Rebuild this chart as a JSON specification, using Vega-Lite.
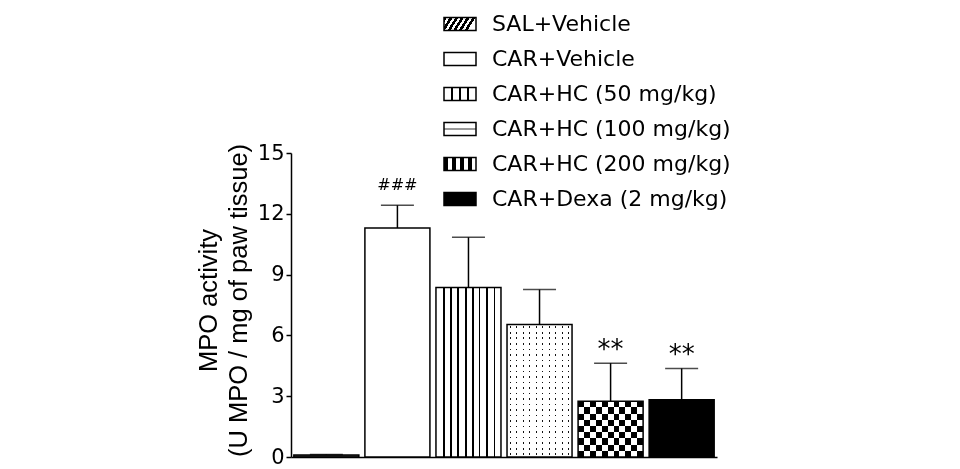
{
  "$schema": "https://vega.github.io/schema/vega-lite/v6.json",
  "width": 426,
  "height": 304,
  "autosize": "none",
  "padding": {"left": 291, "top": 153, "right": 243, "bottom": 12},
  "background": "white",
  "config": {"view": {"stroke": null}},
  "data": {
    "values": [
      {"group": "SAL+Vehicle", "mean": 0.1, "upper": 0.12, "sig": ""},
      {"group": "CAR+Vehicle", "mean": 11.3, "upper": 12.42, "sig": "###"},
      {"group": "CAR+HC (50 mg/kg)", "mean": 8.36, "upper": 10.84, "sig": ""},
      {"group": "CAR+HC (100 mg/kg)", "mean": 6.54, "upper": 8.26, "sig": ""},
      {"group": "CAR+HC (200 mg/kg)", "mean": 2.75, "upper": 4.63, "sig": "**"},
      {"group": "CAR+Dexa (2 mg/kg)", "mean": 2.82, "upper": 4.37, "sig": "**"}
    ]
  },
  "encoding": {
    "x": {
      "field": "group", "type": "nominal", "sort": null,
      "scale": {"paddingInner": 0.085, "paddingOuter": 0.04},
      "axis": {"labels": false, "ticks": false, "title": null, "domainColor": "black", "domainWidth": 1.5}
    },
    "y": {
      "field": "mean", "type": "quantitative",
      "scale": {"domain": [0, 15], "nice": false},
      "axis": {
        "values": [0, 3, 6, 9, 12, 15], "tickSize": 5, "tickWidth": 1.5, "tickColor": "black",
        "domainColor": "black", "domainWidth": 1.5,
        "labelFont": "DejaVu Sans", "labelFontSize": 21, "labelColor": "black", "labelPadding": 2,
        "grid": false,
        "title": ["MPO activity", "(U MPO / mg of paw tissue)"],
        "titleFont": "Liberation Sans", "titleFontSize": 25.5, "titleFontWeight": "normal",
        "titleColor": "black", "titleLineHeight": 30, "titlePadding": 6, "titleY": 147
      }
    }
  },
  "layer": [
    {
      "mark": {"type": "bar", "stroke": "black", "strokeWidth": 1.5},
      "encoding": {
        "y": {"datum": 0, "type": "quantitative"},
        "y2": {"datum": 0},
        "fill": {
          "field": "group", "type": "nominal",
          "scale": {
            "domain": ["SAL+Vehicle", "CAR+Vehicle", "CAR+HC (50 mg/kg)", "CAR+HC (100 mg/kg)", "CAR+HC (200 mg/kg)", "CAR+Dexa (2 mg/kg)"],
            "range": [
              {"expr": "{gradient:'linear',x1:0,y1:0,x2:1,y2:0.25,stops:[{offset:0,color:'black'},{offset:0.09,color:'black'},{offset:0.09,color:'white'},{offset:0.167,color:'white'},{offset:0.167,color:'black'},{offset:0.257,color:'black'},{offset:0.257,color:'white'},{offset:0.333,color:'white'},{offset:0.333,color:'black'},{offset:0.423,color:'black'},{offset:0.423,color:'white'},{offset:0.5,color:'white'},{offset:0.5,color:'black'},{offset:0.59,color:'black'},{offset:0.59,color:'white'},{offset:0.667,color:'white'},{offset:0.667,color:'black'},{offset:0.757,color:'black'},{offset:0.757,color:'white'},{offset:0.833,color:'white'},{offset:0.833,color:'black'},{offset:0.923,color:'black'},{offset:0.923,color:'white'},{offset:1,color:'white'}]}"},
              "white",
              {"expr": "{gradient:'linear',x1:0,y1:0,x2:1,y2:0,stops:[{offset:0,color:'white'},{offset:0.225,color:'white'},{offset:0.225,color:'black'},{offset:0.275,color:'black'},{offset:0.275,color:'white'},{offset:0.475,color:'white'},{offset:0.475,color:'black'},{offset:0.525,color:'black'},{offset:0.525,color:'white'},{offset:0.725,color:'white'},{offset:0.725,color:'black'},{offset:0.775,color:'black'},{offset:0.775,color:'white'},{offset:1,color:'white'}]}"},
              {"expr": "{gradient:'linear',x1:0,y1:0,x2:0,y2:1,stops:[{offset:0,color:'white'},{offset:0.42,color:'white'},{offset:0.42,color:'#999'},{offset:0.58,color:'#999'},{offset:0.58,color:'white'},{offset:1,color:'white'}]}"},
              {"expr": "{gradient:'linear',x1:0,y1:0,x2:1,y2:0,stops:[{offset:0,color:'black'},{offset:0.125,color:'black'},{offset:0.125,color:'white'},{offset:0.25,color:'white'},{offset:0.25,color:'black'},{offset:0.375,color:'black'},{offset:0.375,color:'white'},{offset:0.5,color:'white'},{offset:0.5,color:'black'},{offset:0.625,color:'black'},{offset:0.625,color:'white'},{offset:0.75,color:'white'},{offset:0.75,color:'black'},{offset:0.875,color:'black'},{offset:0.875,color:'white'},{offset:1,color:'white'}]}"},
              "black"
            ]
          },
          "legend": {
            "orient": "none", "legendX": 152, "legendY": -146, "title": null,
            "symbolType": "M-1,-0.4V0.4H1V-0.4Z", "symbolSize": 1024,
            "symbolStrokeColor": "black", "symbolStrokeWidth": 1.5,
            "labelFont": "DejaVu Sans", "labelFontSize": 22, "labelColor": "black",
            "labelOffset": 15, "rowPadding": 7, "labelLimit": 0, "padding": 0
          }
        }
      }
    },
    {
      "mark": {"type": "bar", "strokeWidth": 0},
      "encoding": {
        "fill": {
          "field": "group", "type": "nominal", "legend": null,
          "scale": {
            "domain": ["SAL+Vehicle", "CAR+Vehicle", "CAR+HC (50 mg/kg)", "CAR+HC (100 mg/kg)", "CAR+HC (200 mg/kg)", "CAR+Dexa (2 mg/kg)"],
            "range": [
              "#444",
              "white",
              "white",
              {"expr": "{gradient:'linear',x1:0,y1:0,x2:1,y2:0,stops:[{offset:0,color:'white'},{offset:0.04,color:'white'},{offset:0.04,color:'#111'},{offset:0.06,color:'#111'},{offset:0.06,color:'white'},{offset:0.14,color:'white'},{offset:0.14,color:'#111'},{offset:0.16,color:'#111'},{offset:0.16,color:'white'},{offset:0.24,color:'white'},{offset:0.24,color:'#111'},{offset:0.26,color:'#111'},{offset:0.26,color:'white'},{offset:0.34,color:'white'},{offset:0.34,color:'#111'},{offset:0.36,color:'#111'},{offset:0.36,color:'white'},{offset:0.44,color:'white'},{offset:0.44,color:'#111'},{offset:0.46,color:'#111'},{offset:0.46,color:'white'},{offset:0.54,color:'white'},{offset:0.54,color:'#111'},{offset:0.56,color:'#111'},{offset:0.56,color:'white'},{offset:0.64,color:'white'},{offset:0.64,color:'#111'},{offset:0.66,color:'#111'},{offset:0.66,color:'white'},{offset:0.74,color:'white'},{offset:0.74,color:'#111'},{offset:0.76,color:'#111'},{offset:0.76,color:'white'},{offset:0.84,color:'white'},{offset:0.84,color:'#111'},{offset:0.86,color:'#111'},{offset:0.86,color:'white'},{offset:0.94,color:'white'},{offset:0.94,color:'#111'},{offset:0.96,color:'#111'},{offset:0.96,color:'white'},{offset:1,color:'white'}]}"},
              {"expr": "{gradient:'linear',x1:0,y1:0,x2:1,y2:0,stops:[{offset:0,color:'black'},{offset:0.0909,color:'black'},{offset:0.0909,color:'white'},{offset:0.1818,color:'white'},{offset:0.1818,color:'black'},{offset:0.2727,color:'black'},{offset:0.2727,color:'white'},{offset:0.3636,color:'white'},{offset:0.3636,color:'black'},{offset:0.4545,color:'black'},{offset:0.4545,color:'white'},{offset:0.5455,color:'white'},{offset:0.5455,color:'black'},{offset:0.6364,color:'black'},{offset:0.6364,color:'white'},{offset:0.7273,color:'white'},{offset:0.7273,color:'black'},{offset:0.8182,color:'black'},{offset:0.8182,color:'white'},{offset:0.9091,color:'white'},{offset:0.9091,color:'black'},{offset:1,color:'black'}]}"},
              "black"
            ]
          }
        }
      }
    },
    {
      "transform": [{"filter": "datum.group === 'CAR+HC (50 mg/kg)'"}],
      "mark": {
        "type": "bar", "strokeWidth": 0,
        "fill": {"gradient": "linear", "x1": 0, "y1": 0, "x2": 1, "y2": 0, "stops": [
          {"offset": 0, "color": "white"},
          {"offset": 0.1083, "color": "white"}, {"offset": 0.1083, "color": "black"}, {"offset": 0.1314, "color": "black"}, {"offset": 0.1314, "color": "white"},
          {"offset": 0.2159, "color": "white"}, {"offset": 0.2159, "color": "black"}, {"offset": 0.239, "color": "black"}, {"offset": 0.239, "color": "white"},
          {"offset": 0.3236, "color": "white"}, {"offset": 0.3236, "color": "black"}, {"offset": 0.3467, "color": "black"}, {"offset": 0.3467, "color": "white"},
          {"offset": 0.4466, "color": "white"}, {"offset": 0.4466, "color": "black"}, {"offset": 0.4697, "color": "black"}, {"offset": 0.4697, "color": "white"},
          {"offset": 0.5543, "color": "white"}, {"offset": 0.5543, "color": "black"}, {"offset": 0.5774, "color": "black"}, {"offset": 0.5774, "color": "white"},
          {"offset": 0.6619, "color": "white"}, {"offset": 0.6619, "color": "black"}, {"offset": 0.685, "color": "black"}, {"offset": 0.685, "color": "white"},
          {"offset": 0.7696, "color": "white"}, {"offset": 0.7696, "color": "black"}, {"offset": 0.7927, "color": "black"}, {"offset": 0.7927, "color": "white"},
          {"offset": 0.8926, "color": "white"}, {"offset": 0.8926, "color": "black"}, {"offset": 0.9157, "color": "black"}, {"offset": 0.9157, "color": "white"},
          {"offset": 1, "color": "white"}
        ]}
      }
    },
    {
      "transform": [{"filter": "datum.group === 'CAR+HC (100 mg/kg)'"}],
      "mark": {
        "type": "bar", "strokeWidth": 0,
        "fill": {"gradient": "linear", "x1": 0, "y1": 0, "x2": 0, "y2": 1, "stops": [
          {"offset": 0, "color": "white"},
          {"offset": 0.0148, "color": "white"}, {"offset": 0.0148, "color": "rgba(255,255,255,0)"}, {"offset": 0.0268, "color": "rgba(255,255,255,0)"}, {"offset": 0.0268, "color": "white"},
          {"offset": 0.0565, "color": "white"}, {"offset": 0.0565, "color": "rgba(255,255,255,0)"}, {"offset": 0.0685, "color": "rgba(255,255,255,0)"}, {"offset": 0.0685, "color": "white"},
          {"offset": 0.0982, "color": "white"}, {"offset": 0.0982, "color": "rgba(255,255,255,0)"}, {"offset": 0.1102, "color": "rgba(255,255,255,0)"}, {"offset": 0.1102, "color": "white"},
          {"offset": 0.1398, "color": "white"}, {"offset": 0.1398, "color": "rgba(255,255,255,0)"}, {"offset": 0.1518, "color": "rgba(255,255,255,0)"}, {"offset": 0.1518, "color": "white"},
          {"offset": 0.1815, "color": "white"}, {"offset": 0.1815, "color": "rgba(255,255,255,0)"}, {"offset": 0.1935, "color": "rgba(255,255,255,0)"}, {"offset": 0.1935, "color": "white"},
          {"offset": 0.2232, "color": "white"}, {"offset": 0.2232, "color": "rgba(255,255,255,0)"}, {"offset": 0.2352, "color": "rgba(255,255,255,0)"}, {"offset": 0.2352, "color": "white"},
          {"offset": 0.2648, "color": "white"}, {"offset": 0.2648, "color": "rgba(255,255,255,0)"}, {"offset": 0.2768, "color": "rgba(255,255,255,0)"}, {"offset": 0.2768, "color": "white"},
          {"offset": 0.3065, "color": "white"}, {"offset": 0.3065, "color": "rgba(255,255,255,0)"}, {"offset": 0.3185, "color": "rgba(255,255,255,0)"}, {"offset": 0.3185, "color": "white"},
          {"offset": 0.3482, "color": "white"}, {"offset": 0.3482, "color": "rgba(255,255,255,0)"}, {"offset": 0.3602, "color": "rgba(255,255,255,0)"}, {"offset": 0.3602, "color": "white"},
          {"offset": 0.3898, "color": "white"}, {"offset": 0.3898, "color": "rgba(255,255,255,0)"}, {"offset": 0.4018, "color": "rgba(255,255,255,0)"}, {"offset": 0.4018, "color": "white"},
          {"offset": 0.4315, "color": "white"}, {"offset": 0.4315, "color": "rgba(255,255,255,0)"}, {"offset": 0.4435, "color": "rgba(255,255,255,0)"}, {"offset": 0.4435, "color": "white"},
          {"offset": 0.4732, "color": "white"}, {"offset": 0.4732, "color": "rgba(255,255,255,0)"}, {"offset": 0.4852, "color": "rgba(255,255,255,0)"}, {"offset": 0.4852, "color": "white"},
          {"offset": 0.5148, "color": "white"}, {"offset": 0.5148, "color": "rgba(255,255,255,0)"}, {"offset": 0.5268, "color": "rgba(255,255,255,0)"}, {"offset": 0.5268, "color": "white"},
          {"offset": 0.5565, "color": "white"}, {"offset": 0.5565, "color": "rgba(255,255,255,0)"}, {"offset": 0.5685, "color": "rgba(255,255,255,0)"}, {"offset": 0.5685, "color": "white"},
          {"offset": 0.5982, "color": "white"}, {"offset": 0.5982, "color": "rgba(255,255,255,0)"}, {"offset": 0.6102, "color": "rgba(255,255,255,0)"}, {"offset": 0.6102, "color": "white"},
          {"offset": 0.6398, "color": "white"}, {"offset": 0.6398, "color": "rgba(255,255,255,0)"}, {"offset": 0.6518, "color": "rgba(255,255,255,0)"}, {"offset": 0.6518, "color": "white"},
          {"offset": 0.6815, "color": "white"}, {"offset": 0.6815, "color": "rgba(255,255,255,0)"}, {"offset": 0.6935, "color": "rgba(255,255,255,0)"}, {"offset": 0.6935, "color": "white"},
          {"offset": 0.7232, "color": "white"}, {"offset": 0.7232, "color": "rgba(255,255,255,0)"}, {"offset": 0.7352, "color": "rgba(255,255,255,0)"}, {"offset": 0.7352, "color": "white"},
          {"offset": 0.7648, "color": "white"}, {"offset": 0.7648, "color": "rgba(255,255,255,0)"}, {"offset": 0.7768, "color": "rgba(255,255,255,0)"}, {"offset": 0.7768, "color": "white"},
          {"offset": 0.8065, "color": "white"}, {"offset": 0.8065, "color": "rgba(255,255,255,0)"}, {"offset": 0.8185, "color": "rgba(255,255,255,0)"}, {"offset": 0.8185, "color": "white"},
          {"offset": 0.8482, "color": "white"}, {"offset": 0.8482, "color": "rgba(255,255,255,0)"}, {"offset": 0.8602, "color": "rgba(255,255,255,0)"}, {"offset": 0.8602, "color": "white"},
          {"offset": 0.8898, "color": "white"}, {"offset": 0.8898, "color": "rgba(255,255,255,0)"}, {"offset": 0.9018, "color": "rgba(255,255,255,0)"}, {"offset": 0.9018, "color": "white"},
          {"offset": 0.9315, "color": "white"}, {"offset": 0.9315, "color": "rgba(255,255,255,0)"}, {"offset": 0.9435, "color": "rgba(255,255,255,0)"}, {"offset": 0.9435, "color": "white"},
          {"offset": 0.9732, "color": "white"}, {"offset": 0.9732, "color": "rgba(255,255,255,0)"}, {"offset": 0.9852, "color": "rgba(255,255,255,0)"}, {"offset": 0.9852, "color": "white"},
          {"offset": 1, "color": "white"}
        ]}
      }
    },
    {
      "transform": [{"filter": "datum.group === 'CAR+HC (200 mg/kg)'"}],
      "mark": {
        "type": "bar", "strokeWidth": 0, "blend": "difference",
        "fill": {"gradient": "linear", "x1": 0, "y1": 0, "x2": 0, "y2": 1, "stops": [
          {"offset": 0, "color": "black"}, {"offset": 0.1111, "color": "black"},
          {"offset": 0.1111, "color": "white"}, {"offset": 0.2222, "color": "white"},
          {"offset": 0.2222, "color": "black"}, {"offset": 0.3333, "color": "black"},
          {"offset": 0.3333, "color": "white"}, {"offset": 0.4444, "color": "white"},
          {"offset": 0.4444, "color": "black"}, {"offset": 0.5556, "color": "black"},
          {"offset": 0.5556, "color": "white"}, {"offset": 0.6667, "color": "white"},
          {"offset": 0.6667, "color": "black"}, {"offset": 0.7778, "color": "black"},
          {"offset": 0.7778, "color": "white"}, {"offset": 0.8889, "color": "white"},
          {"offset": 0.8889, "color": "black"}, {"offset": 1, "color": "black"}
        ]}
      }
    },
    {
      "mark": {"type": "bar", "filled": false, "color": "black", "strokeWidth": 1.5}
    },
    {
      "mark": {"type": "rule", "color": "black", "strokeWidth": 1.5},
      "encoding": {"y2": {"field": "upper"}}
    },
    {
      "mark": {"type": "tick", "color": "black", "thickness": 1.5, "size": 33},
      "encoding": {"y": {"field": "upper", "type": "quantitative"}}
    },
    {
      "transform": [{"filter": "datum.sig === '###'"}],
      "mark": {"type": "text", "font": "DejaVu Sans", "fontSize": 16, "color": "black", "baseline": "alphabetic", "dy": -15},
      "encoding": {"y": {"field": "upper", "type": "quantitative"}, "text": {"field": "sig"}}
    },
    {
      "transform": [{"filter": "datum.sig === '**'"}],
      "mark": {"type": "text", "font": "DejaVu Sans", "fontSize": 26, "color": "black", "baseline": "alphabetic", "dy": -5},
      "encoding": {"y": {"field": "upper", "type": "quantitative"}, "text": {"field": "sig"}}
    }
  ],
  "resolve": {"scale": {"fill": "independent"}}
}
